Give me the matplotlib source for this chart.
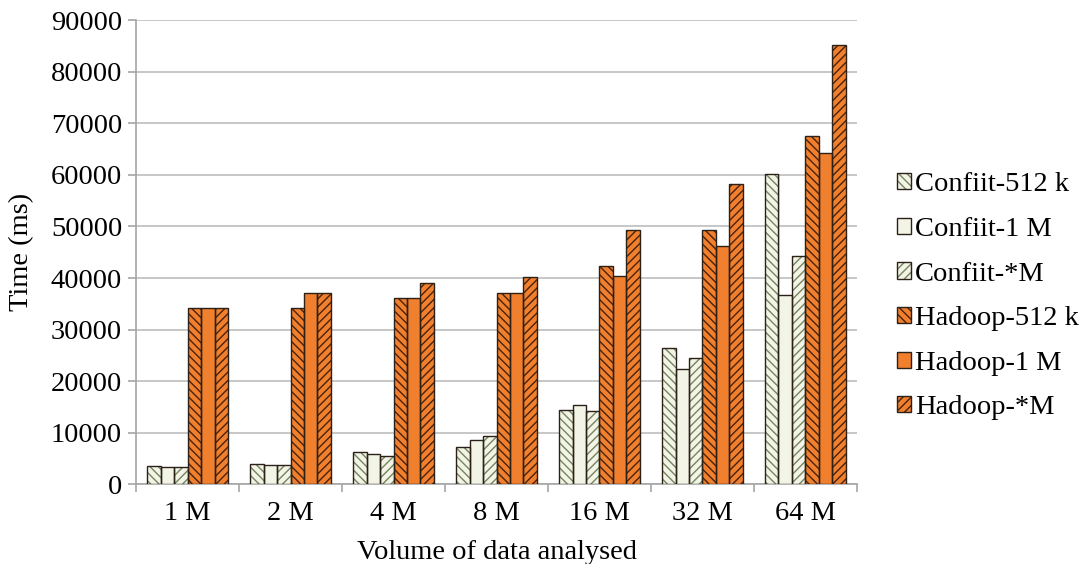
import numpy as np
import matplotlib
matplotlib.use("Agg")
import matplotlib.pyplot as plt
from matplotlib.patches import Patch

categories = ["1 M", "2 M", "4 M", "8 M", "16 M", "32 M", "64 M"]
series = ["Confiit-512 k", "Confiit-1 M", "Confiit-*M",
          "Hadoop-512 k", "Hadoop-1 M", "Hadoop-*M"]

confiit_512k = [3550, 4060, 6250, 7350, 14450, 26400, 60150]
confiit_1m = [3350, 3700, 6000, 8700, 15450, 22450, 36750]
confiit_star = [3350, 3870, 5550, 9400, 14250, 24450, 44350]
hadoop_512k = [34100, 34200, 36150, 37100, 42350, 49250, 67500]
hadoop_1m = [34100, 37100, 36150, 37100, 40400, 46250, 64300]
hadoop_star = [34100, 37100, 39100, 40150, 49250, 58250, 85150]

values = [confiit_512k, confiit_1m, confiit_star, hadoop_512k, hadoop_1m, hadoop_star]

C_FILL, C_HATCH = "#F2F4E6", "#76835F"
H_FILL, H_HATCH = "#F07F2E", "#4A220A"
EDGE = "#2B2118"
styles = [  # (fill, hatch color, hatch)
    (C_FILL, C_HATCH, "\\\\\\\\"),
    (C_FILL, C_HATCH, ""),
    (C_FILL, C_HATCH, "////"),
    (H_FILL, H_HATCH, "\\\\\\\\"),
    (H_FILL, H_HATCH, ""),
    (H_FILL, H_HATCH, "////"),
]

plt.rcParams.update({
    "font.family": ["Liberation Serif", "DejaVu Serif"],
    "font.size": 20.5,
    "hatch.linewidth": 1.0,
})

fig = plt.figure(figsize=(10.83, 5.64), dpi=100)
ax = fig.add_axes([0.1256, 0.141, 0.6657, 0.8235])

x = np.arange(len(categories)) + 0.5
w = 0.131
handles = []
for k, (vals, (fc, hc, hatch)) in enumerate(zip(values, styles)):
    pos = x + (k - 2.5) * w
    # soft shadow behind each bar
    ax.bar(pos + 0.012, vals, w, bottom=0, color="#9a9a9a", alpha=0.35, lw=0, zorder=2)
    ax.bar(pos, vals, w, facecolor=fc, edgecolor=hc, hatch=hatch, lw=0, zorder=3)
    ax.bar(pos, vals, w, facecolor="none", edgecolor=EDGE, lw=1.0, zorder=4)
    handles.append((Patch(facecolor=fc, edgecolor=hc, hatch=hatch, lw=0),
                    Patch(facecolor="none", edgecolor=EDGE, lw=1.0)))

ax.set_xlim(0, len(categories))
ax.set_ylim(0, 90000)
ax.set_yticks(np.arange(0, 90001, 10000))
ax.set_xticks(np.arange(0, len(categories) + 1))
ax.set_xticklabels([])
ax.set_xticks(x, minor=True)
ax.set_xticklabels(categories, minor=True)
ax.tick_params(axis="x", which="minor", length=0, pad=12)
ax.tick_params(axis="x", which="major", length=6, color="#A6A6A6", width=1.2)
ax.tick_params(axis="y", length=6, color="#A6A6A6", width=1.2, pad=4)

ax.grid(axis="y", color="#BEBEBE", lw=1.2, zorder=0)
ax.set_axisbelow(True)
for s in ["top", "right"]:
    ax.spines[s].set_visible(False)
for s in ["left", "bottom"]:
    ax.spines[s].set_color("#A6A6A6")
    ax.spines[s].set_linewidth(1.2)

ax.set_ylabel("Time (ms)", labelpad=12)
ax.set_xlabel("Volume of data analysed", labelpad=10)

ax.legend(handles, series, loc="center left", bbox_to_anchor=(1.04, 0.405),
          frameon=False, handlelength=0.5, handleheight=0.5, handletextpad=0.12,
          labelspacing=0.69, borderaxespad=0.0)

fig.savefig("out.png", dpi=100)
